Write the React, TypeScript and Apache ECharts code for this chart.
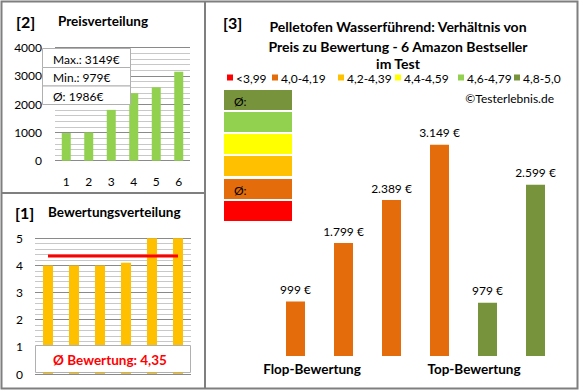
import React, { useEffect, useRef } from "react";
import * as echarts from "echarts";

// ---- data ----
const priceCategories = ["1", "2", "3", "4", "5", "6"];
const priceValues = [979, 999, 1799, 2389, 2599, 3149];
const ratingCategories = ["1", "2", "3", "4", "5", "6"];
const ratingValues = [4.0, 4.0, 4.0, 4.1, 5.0, 5.0];
const bestsellerCategories = ["A", "B", "C", "D", "E", "F"];
const bestsellerPrices = [999, 1799, 2389, 3149, 979, 2599];
const bestsellerColors = ["#E46C0A", "#E46C0A", "#E46C0A", "#E46C0A", "#77933C", "#77933C"];
const groupLabels = ["Flop-Bewertung", "Top-Bewertung"];
const legendLabels = ["<3,99", "4,0-4,19", "4,2-4,39", "4,4-4,59", "4,6-4,79", "4,8-5,0"];
const legendColors = ["#FF0000", "#E46C0A", "#FFC000", "#FFFF00", "#92D050", "#77933C"];
const titleLines = [
  "Pelletofen Wasserführend: Verhältnis von",
  "Preis zu Bewertung - 6 Amazon Bestseller",
  "im Test",
];

const FONT = "Lato";

function fmtThousands(v: number): string {
  return String(v).replace(/\B(?=(\d{3})+(?!\d))/g, ".");
}

export default function App() {
  const ref = useRef<HTMLDivElement>(null);

  useEffect(() => {
    if (!ref.current) return;
    const chart = echarts.init(ref.current, null, { renderer: "svg" });

    const pMax = Math.max(...priceValues);
    const pMin = Math.min(...priceValues);
    const pAvg = Math.round(priceValues.reduce((a, b) => a + b, 0) / priceValues.length);
    const rAvg = ratingValues.reduce((a, b) => a + b, 0) / ratingValues.length;
    const rAvgText = rAvg.toFixed(2).replace(".", ",");

    const txt = (
      text: string,
      x: number,
      y: number,
      font: string,
      fill = "#000",
      align = "left",
      z = 20
    ) => ({
      type: "text",
      x,
      y,
      z,
      style: {
        text,
        font,
        fill,
        align,
        textAlign: align,
        verticalAlign: "middle",
        textVerticalAlign: "middle",
      },
    });

    const graphics: any[] = [];
    // frame
    graphics.push({
      type: "rect",
      z: 1,
      shape: { x: 1.5, y: 1.5, width: 576, height: 387 },
      style: { fill: "none", stroke: "#7f7f7f", lineWidth: 2 },
    });
    graphics.push({
      type: "line",
      z: 1,
      shape: { x1: 205, y1: 1, x2: 205, y2: 389 },
      style: { stroke: "#7f7f7f", lineWidth: 2 },
    });
    graphics.push({
      type: "line",
      z: 1,
      shape: { x1: 1, y1: 193, x2: 205, y2: 193 },
      style: { stroke: "#7f7f7f", lineWidth: 2 },
    });

    // panel [2]
    graphics.push(txt("[2]", 16, 21, `bold 16px ${FONT}`));
    graphics.push(txt("Preisverteilung", 58, 21, `bold 13.5px ${FONT}`));
    const boxRows = [
      `Max.: ${pMax}€`,
      `Min.: ${pMin}€`,
      `Ø: ${pAvg}€`,
    ];
    const rowY = [48, 67, 85.5];
    const rowH = [19, 18.5, 18.5];
    boxRows.forEach((t, i) => {
      graphics.push({
        type: "rect",
        z: 15,
        shape: { x: 42.5, y: rowY[i] + 0.5, width: 88, height: rowH[i] },
        style: { fill: "#fff", stroke: "#b0b0b0", lineWidth: 1 },
      });
      graphics.push(txt(t, 53, rowY[i] + rowH[i] / 2 + 1.5, `12px ${FONT}`, "#000", "left", 16));
    });

    // panel [1]
    graphics.push(txt("[1]", 15, 212, `bold 16px ${FONT}`));
    graphics.push(txt("Bewertungsverteilung", 48, 212, `bold 13.5px ${FONT}`));
    graphics.push({
      type: "rect",
      z: 15,
      shape: { x: 35.5, y: 345.5, width: 155, height: 27 },
      style: { fill: "#fff", stroke: "#b0b0b0", lineWidth: 1 },
    });
    graphics.push(txt(`Ø Bewertung: ${rAvgText}`, 110, 359.5, `bold 13.5px ${FONT}`, "#FF0000", "center", 16));

    // panel [3]
    graphics.push(txt("[3]", 223, 22, `bold 16px ${FONT}`));
    const titleY = [26, 46, 63];
    titleLines.forEach((t, i) =>
      graphics.push(txt(t, 398, titleY[i], `bold 14px ${FONT}`, "#000", "center"))
    );
    const legSquareX = [227, 272, 338, 395, 458, 514];
    legendLabels.forEach((l, i) => {
      graphics.push({
        type: "rect",
        z: 20,
        shape: { x: legSquareX[i], y: 74.5, width: 6, height: 6 },
        style: { fill: legendColors[i] },
      });
      graphics.push(txt(l, legSquareX[i] + 9, 78, `12px ${FONT}`));
    });
    graphics.push(txt("©Testerlebnis.de", 554, 98, `12px ${FONT}`, "#000", "right"));

    const boxColors = [...legendColors].reverse();
    const boxY = [90, 112, 134, 156, 179, 201];
    boxColors.forEach((c, i) => {
      graphics.push({
        type: "rect",
        z: 20,
        shape: { x: 224, y: boxY[i], width: 68, height: 20 },
        style: { fill: c },
      });
    });
    graphics.push(txt("Ø:", 234, 101, `12px ${FONT}`));
    graphics.push(txt("Ø:", 234, 190, `12px ${FONT}`));

    const groupX = [312, 474];
    groupLabels.forEach((g, i) =>
      graphics.push(txt(g, groupX[i], 369, `bold 13.5px ${FONT}`, "#000", "center"))
    );

    const option: any = {
      animation: false,
      backgroundColor: "#fff",
      textStyle: { fontFamily: FONT },
      grid: [
        { left: 55, top: 47.7, width: 135, height: 113 },
        { left: 35, top: 238.3, width: 156, height: 135.7 },
        { left: 271.5, top: 130, width: 288, height: 226 },
      ],
      xAxis: [
        {
          gridIndex: 0,
          type: "category",
          data: priceCategories,
          axisLine: { show: false },
          axisTick: { show: false },
          axisLabel: { fontSize: 12, color: "#000", margin: 15 },
        },
        {
          gridIndex: 1,
          type: "category",
          data: ratingCategories,
          axisLine: { show: false },
          axisTick: { show: false },
          axisLabel: { show: false },
        },
        {
          gridIndex: 2,
          type: "category",
          data: bestsellerCategories,
          show: false,
        },
      ],
      yAxis: [
        {
          gridIndex: 0,
          type: "value",
          min: 0,
          max: 4000,
          interval: 1000,
          axisLabel: {
            fontSize: 12,
            color: "#000",
            margin: 13,
            formatter: (v: number) => String(v),
          },
          axisLine: { show: false },
          axisTick: { show: false },
          splitLine: { show: true, lineStyle: { color: "#8a8a8a", width: 1 } },
          minorTick: { show: false, splitNumber: 5 },
          minorSplitLine: { show: true, lineStyle: { color: "#c8c8c8", width: 1 } },
        },
        {
          gridIndex: 1,
          type: "value",
          min: 0,
          max: 5,
          interval: 1,
          axisLabel: { fontSize: 12, color: "#000", margin: 12 },
          axisLine: { show: false },
          axisTick: { show: false },
          splitLine: { show: true, lineStyle: { color: "#8a8a8a", width: 1 } },
          minorTick: { show: false, splitNumber: 5 },
          minorSplitLine: { show: true, lineStyle: { color: "#c8c8c8", width: 1 } },
        },
        {
          gridIndex: 2,
          type: "value",
          min: 250,
          max: 3350,
          show: false,
        },
      ],
      series: [
        {
          type: "bar",
          xAxisIndex: 0,
          yAxisIndex: 0,
          data: priceValues,
          barWidth: 9,
          itemStyle: { color: "#92D050" },
        },
        {
          type: "bar",
          xAxisIndex: 1,
          yAxisIndex: 1,
          data: ratingValues,
          barWidth: 10,
          itemStyle: { color: "#FFC000" },
        },
        {
          type: "line",
          xAxisIndex: 1,
          yAxisIndex: 1,
          data: ratingValues.map(() => rAvg),
          showSymbol: false,
          symbol: "none",
          z: 5,
          lineStyle: { color: "#FF0000", width: 3 },
        },
        {
          type: "bar",
          xAxisIndex: 2,
          yAxisIndex: 2,
          barWidth: 19,
          data: bestsellerPrices.map((v, i) => ({
            value: v,
            itemStyle: { color: bestsellerColors[i] },
          })),
          label: {
            show: true,
            position: "top",
            distance: 6,
            fontSize: 12,
            color: "#000",
            fontFamily: FONT,
            formatter: (p: any) => `${fmtThousands(p.value)} €`,
          },
        },
      ],
      graphic: { elements: graphics },
    };

    chart.setOption(option);
    return () => chart.dispose();
  }, []);

  return (
    <div
      ref={ref}
      style={{ position: "absolute", left: 0, top: 0, width: 580, height: 390, background: "#fff" }}
    />
  );
}
